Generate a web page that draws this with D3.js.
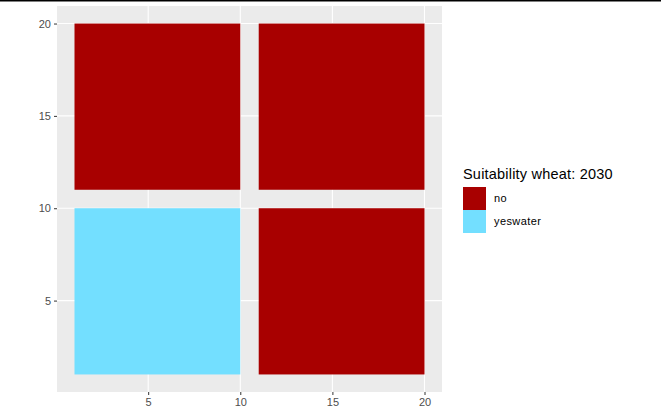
<!DOCTYPE html>
<html>
<head>
<meta charset="UTF-8">
<script src="https://d3js.org/d3.v7.min.js"></script>
<style>
  body { margin: 0; background: #fff; font-family: "Liberation Sans", Arial, sans-serif; }
</style>
</head>
<body>
<svg width="661" height="416"></svg>
<script>
var xmin = [1, 11, 1, 11];
var xmax = [10, 20, 10, 20];
var ymin = [11, 11, 1, 1];
var ymax = [20, 20, 10, 10];
var suit = ["no", "no", "yeswater", "no"];
var categories = ["no", "yeswater"];
var ticks = [5, 10, 15, 20];

var svg = d3.select("svg");
svg.append("rect").attr("x", 0).attr("y", 0).attr("width", 661).attr("height", 1.5).attr("fill", "#000");

var x = d3.scaleLinear().domain([0.05, 20.95]).range([57, 442]);
var y = d3.scaleLinear().domain([0.05, 20.95]).range([392, 6]);
var color = d3.scaleOrdinal().domain(categories).range(["#a80000", "#73dfff"]);

svg.append("rect").attr("x", 57).attr("y", 6).attr("width", 385).attr("height", 386).attr("fill", "#ebebeb");
ticks.forEach(function(v){
  svg.append("line").attr("x1", x(v)).attr("x2", x(v)).attr("y1", 6).attr("y2", 392).attr("stroke", "#fff").attr("stroke-width", 1.1);
  svg.append("line").attr("y1", y(v)).attr("y2", y(v)).attr("x1", 57).attr("x2", 442).attr("stroke", "#fff").attr("stroke-width", 1.1);
});

svg.selectAll(".tile").data(d3.range(xmin.length)).join("rect")
  .attr("x", function(i){ return x(xmin[i]); })
  .attr("width", function(i){ return x(xmax[i]) - x(xmin[i]); })
  .attr("y", function(i){ return y(ymax[i]); })
  .attr("height", function(i){ return y(ymin[i]) - y(ymax[i]); })
  .attr("fill", function(i){ return color(suit[i]); });

var xAxis = svg.append("g").attr("transform", "translate(0,392)")
  .call(d3.axisBottom(x).tickValues(ticks).tickSize(3).tickPadding(3));
var yAxis = svg.append("g").attr("transform", "translate(57,0)")
  .call(d3.axisLeft(y).tickValues(ticks).tickSize(3).tickPadding(3));
[xAxis, yAxis].forEach(function(a){
  a.select(".domain").remove();
  a.selectAll("line").attr("stroke", "#333");
  a.selectAll("text").attr("fill", "#4d4d4d").style("font-size", "11px").style("font-family", "Liberation Sans, Arial, sans-serif");
});

var leg = svg.append("g");
leg.append("text").attr("x", 463).attr("y", 179).text("Suitability wheat: 2030")
  .style("font-size", "14.5px").style("letter-spacing", "0.2px").attr("fill", "#000");
categories.forEach(function(c, i){
  leg.append("rect").attr("x", 463).attr("y", 187 + i * 23).attr("width", 23).attr("height", 23).attr("fill", color(c));
  leg.append("text").attr("x", 494).attr("y", 198.5 + i * 23).attr("dy", "0.35em").text(c)
    .style("font-size", "11px").style("letter-spacing", "0.4px").attr("fill", "#000");
});
</script>
</body>
</html>
